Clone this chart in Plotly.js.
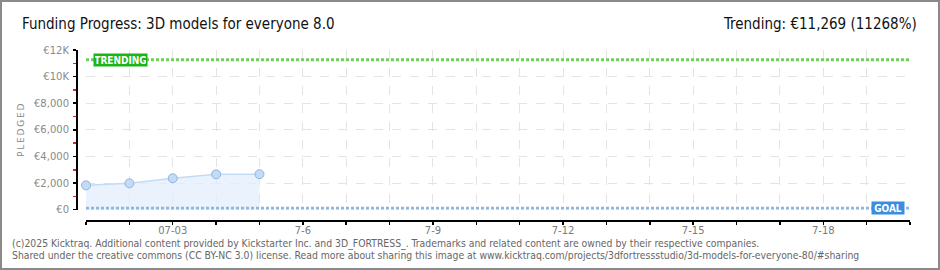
<!DOCTYPE html>
<html>
<head>
<meta charset="utf-8">
<script src="https://cdn.plot.ly/plotly-3.0.1.min.js"></script>
<style>
  html, body { margin: 0; padding: 0; background: #fff; }
  #wrap { position: relative; width: 940px; height: 270px; }
  #chart { position: absolute; left: 0; top: 0; width: 940px; height: 270px; }
  #frame { position: absolute; left: 0; top: 0; width: 936px; height: 266px; border: 2px solid #8a8a8a; pointer-events: none; }
</style>
</head>
<body>
<div id="wrap">
  <div id="chart"></div>
  <div id="frame"></div>
</div>
<script>
// ---- data ----
const titleText = "Funding Progress: 3D models for everyone 8.0";
const trendingText = "Trending: €11,269 (11268%)";
const pledgeDates = ["2025-07-01", "2025-07-02", "2025-07-03", "2025-07-04", "2025-07-05"];
const pledgeValues = [1830, 1980, 2360, 2660, 2670];
const trendingValue = 11269;
const goalValue = 100;
const axisStart = "2025-07-01";
const axisEnd = "2025-07-20";
const xTickDates = ["2025-07-01","2025-07-02","2025-07-03","2025-07-04","2025-07-05","2025-07-06","2025-07-07","2025-07-08","2025-07-09","2025-07-10","2025-07-11","2025-07-12","2025-07-13","2025-07-14","2025-07-15","2025-07-16","2025-07-17","2025-07-18","2025-07-19","2025-07-20"];
const xTickLabels = ["","","07-03","","","7-6","","","7-9","","","7-12","","","7-15","","","7-18","",""];
const yTickValues = [0, 2000, 4000, 6000, 8000, 10000, 12000];
const yTickLabels = ["€0", "€2,000", "€4,000", "€6,000", "€8,000", "€10K", "€12K"];
const yMinorValues = [1000, 3000, 5000, 7000, 9000, 11000];
const yAxisTitle = "P\u2009L\u2009E\u2009D\u2009G\u2009E\u2009D";
const footerLine1 = "(c)2025 Kicktraq. Additional content provided by Kickstarter Inc. and 3D_FORTRESS_. Trademarks and related content are owned by their respective companies.";
const footerLine2 = "Shared under the creative commons (CC BY-NC 3.0) license. Read more about sharing this image at www.kicktraq.com/projects/3dfortressstudio/3d-models-for-everyone-80/#sharing";

// ---- traces ----
const traces = [
  {
    x: pledgeDates, y: pledgeValues, type: "scatter", mode: "lines+markers",
    fill: "tozeroy", fillcolor: "rgba(226,238,252,0.75)", cliponaxis: false,
    line: { color: "#c4dbf5", width: 1.5 },
    marker: { size: 9, color: "#c3dbf6", line: { color: "#8fb4de", width: 1 } },
    hoverinfo: "skip"
  },
  {
    x: [axisStart, axisEnd], y: [goalValue, goalValue], type: "scatter", mode: "lines",
    line: { color: "#8db6e4", width: 3, dash: "3px,2px" }, hoverinfo: "skip"
  },
  {
    x: [axisStart, axisEnd], y: [trendingValue, trendingValue], type: "scatter", mode: "lines",
    line: { color: "#6fd05c", width: 3, dash: "3px,2px" }, hoverinfo: "skip"
  }
];

const plotL = 86, plotR = 910, plotT = 50, plotB = 220, zeroY = 209.7;
const px = v => (v - plotL) / (plotR - plotL);
const py = v => (plotB - v) / (plotB - plotT);
const layout = {
  width: 940, height: 270,
  margin: { l: plotL, r: 940 - plotR, t: plotT, b: 270 - plotB, pad: 0 },
  paper_bgcolor: "#ffffff", plot_bgcolor: "#ffffff",
  showlegend: false,
  font: { family: "DejaVu Sans", color: "#888" },
  xaxis: {
    type: "date", range: [axisStart, axisEnd],
    anchor: "free", position: 0,
    tickmode: "array", tickvals: xTickDates, ticktext: xTickLabels,
    ticks: "outside", ticklen: 3, tickwidth: 1.5, tickcolor: "#000",
    showline: true, linecolor: "#000", linewidth: 1.5,
    showgrid: true, gridcolor: "#e4e4e4", griddash: "dash", gridwidth: 1,
    zeroline: false,
    ticklabelstandoff: -3,
    tickfont: { family: "DejaVu Sans", size: 10, color: "#7a7a7a" }
  },
  yaxis: {
    range: [0, 12000], domain: [(plotB - zeroY) / (plotB - plotT), 1],
    anchor: "free", position: 0, shift: -10, autoshift: false,
    tickmode: "array", tickvals: yTickValues, ticktext: yTickLabels,
    ticks: "outside", ticklen: 3, tickwidth: 1.5, tickcolor: "#000",
    minor: { tickmode: "array", tickvals: yMinorValues, ticks: "outside", ticklen: 3, tickwidth: 1.5, tickcolor: "#e02020", showgrid: false },
    showline: true, linecolor: "#000", linewidth: 1.5,
    showgrid: true, gridcolor: "#e4e4e4", griddash: "dash", gridwidth: 1,
    zeroline: false,
    ticklabelstandoff: 2,
    tickfont: { family: "DejaVu Sans", size: 10, color: "#8a8a8a" }
  },
  annotations: [
    { text: titleText, xref: "paper", yref: "paper", x: px(20), y: py(24),
      xanchor: "left", yanchor: "middle", showarrow: false,
      font: { family: "DejaVu Sans Condensed", size: 15, color: "#111" } },
    { text: trendingText, xref: "paper", yref: "paper", x: px(919), y: py(24),
      xanchor: "right", yanchor: "middle", showarrow: false,
      font: { family: "DejaVu Sans Condensed", size: 15, color: "#111" } },
    { text: yAxisTitle, xref: "paper", yref: "paper", x: px(21), y: py(130),
      xanchor: "center", yanchor: "middle", showarrow: false, textangle: -90,
      font: { family: "DejaVu Sans", size: 9, color: "#888" } },
    { text: "TRENDING", xref: "paper", yref: "y", x: px(120.5), y: trendingValue,
      xanchor: "center", yanchor: "middle", showarrow: false,
      bgcolor: "#1bb41b", borderpad: 1, width: 51, height: 10,
      font: { family: "DejaVu Sans Condensed", size: 10, weight: "bold", color: "#fff" } },
    { text: "GOAL", xref: "paper", yref: "y", x: px(888), y: goalValue,
      xanchor: "center", yanchor: "middle", showarrow: false,
      bgcolor: "#3a8ddf", borderpad: 1, width: 30, height: 10,
      font: { family: "DejaVu Sans Condensed", size: 10, weight: "bold", color: "#fff" } },
    { text: footerLine1, xref: "paper", yref: "paper", x: px(10), y: py(243),
      xanchor: "left", yanchor: "middle", showarrow: false,
      font: { family: "DejaVu Sans Condensed", size: 10.35, color: "#666" } },
    { text: footerLine2, xref: "paper", yref: "paper", x: px(10), y: py(255),
      xanchor: "left", yanchor: "middle", showarrow: false,
      font: { family: "DejaVu Sans Condensed", size: 10.35, color: "#666" } }
  ]
};

Plotly.newPlot("chart", traces, layout, { staticPlot: true, displayModeBar: false });
</script>
</body>
</html>
